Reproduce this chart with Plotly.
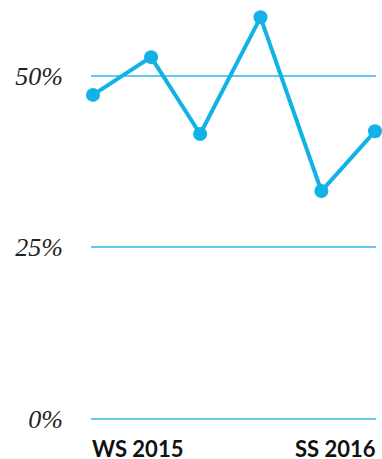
import plotly.graph_objects as go

# data
wave_pos = [0, 1.03, 1.9, 2.97, 4.05, 5]
share_pct = [47.2, 52.7, 41.5, 58.5, 33.2, 41.9]
y_ticks = [0, 25, 50]
y_tick_text = ["0%", "25%", "50%"]
x_label_first = "WS 2015"
x_label_last = "SS 2016"

LINE = "#12b2e6"
GRID = "#62c9ee"

fig = go.Figure()
fig.add_trace(go.Scatter(
    x=wave_pos, y=share_pct, mode="lines+markers",
    line=dict(color=LINE, width=4),
    marker=dict(color=LINE, size=14),
    cliponaxis=False, hoverinfo="skip",
))

fig.update_layout(
    width=382, height=459,
    margin=dict(l=91, r=6, t=7, b=38),
    paper_bgcolor="white", plot_bgcolor="white",
    showlegend=False,
    xaxis=dict(range=[-0.035, 5.018], showgrid=False, zeroline=False,
               showticklabels=False, showline=False, fixedrange=True),
    yaxis=dict(range=[-0.29, 60], tickvals=y_ticks, ticktext=y_tick_text,
               showgrid=True, gridcolor=GRID, gridwidth=1.5,
               zeroline=False, showline=False, fixedrange=True,
               ticklabelstandoff=27,
               tickfont=dict(family="Liberation Serif", size=26, color="#222",
                             style="italic")),
    annotations=[
        dict(x=wave_pos[0], y=0, xref="x", yref="paper", text=x_label_first,
             xanchor="left", yanchor="top", yshift=-12, xshift=-3, showarrow=False,
             font=dict(family="Lato", size=22, color="#111", weight="bold")),
        dict(x=wave_pos[-1], y=0, xref="x", yref="paper", text=x_label_last,
             xanchor="right", yanchor="top", yshift=-12, xshift=3, showarrow=False,
             font=dict(family="Lato", size=22, color="#111", weight="bold")),
    ],
)

fig.write_html("out.html", config={"displayModeBar": False},
               post_script="document.body.style.margin='0';")
